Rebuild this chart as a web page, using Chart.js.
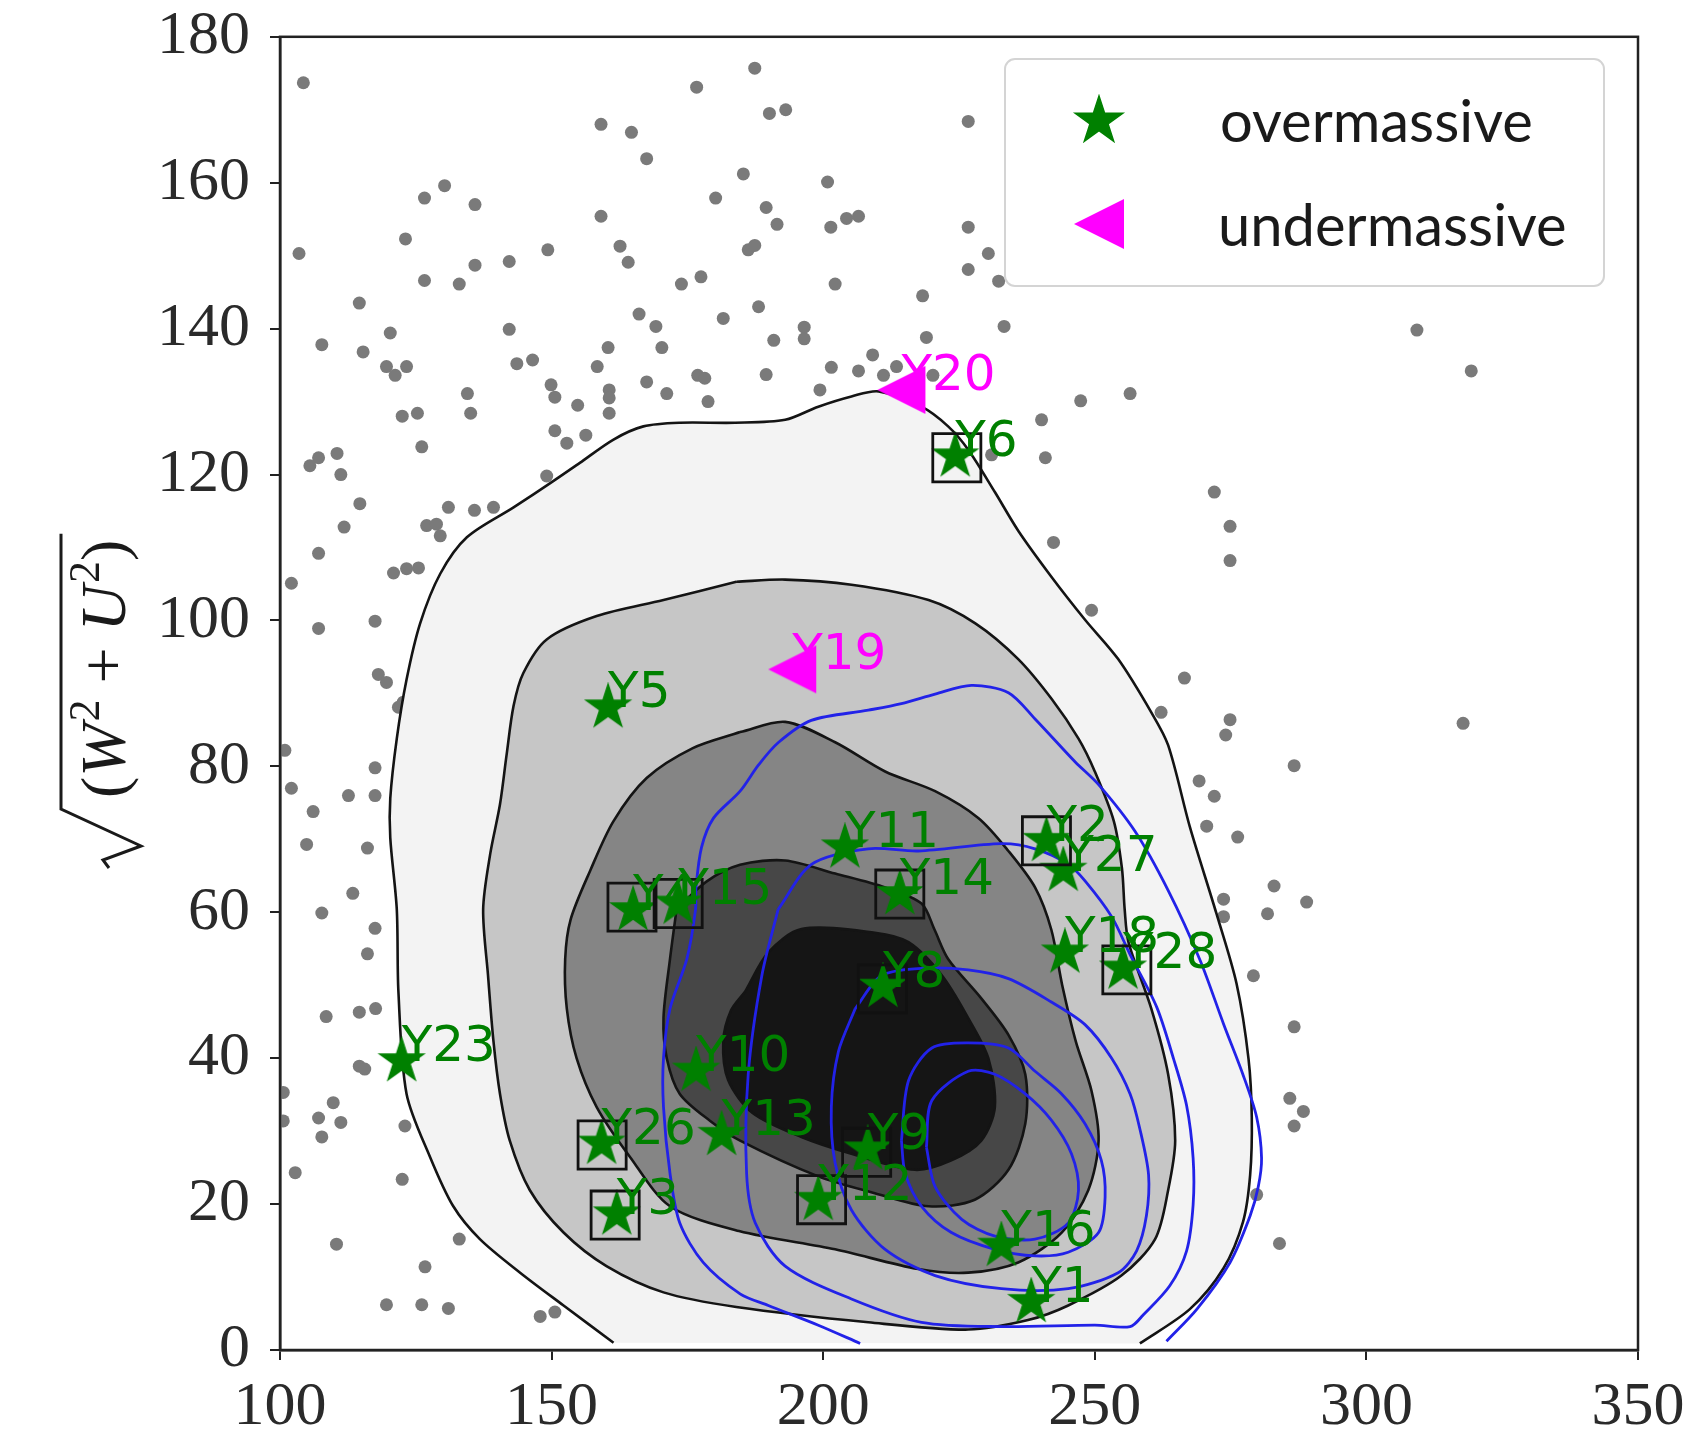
<!DOCTYPE html>
<html>
<head>
<meta charset="utf-8">
<script src="https://cdn.jsdelivr.net/npm/chart.js@4.4.0/dist/chart.umd.min.js"></script>
<style>
  html, body { margin: 0; padding: 0; background: #fff; }
  canvas { display: block; }
</style>
</head>
<body>
<canvas id="toomre" width="1690" height="1441"></canvas>
<script>
// field stars (grey dots)
const dotX = [104.3,176.7,159.1,164.7,167.5,185.3,130.3,126.6,135.9,180.2,159.1,123.1,103.5,135.9,142.2,149.3,162.6,164.1,126.6,133.0,
  173.9,177.5,114.6,166.1,169.2,181.6,120.3,142.2,107.7,115.3,160.4,170.3,119.6,121.2,123.3,143.6,146.5,158.4,176.9,178.2,
  149.9,150.6,160.6,160.6,167.5,171.2,178.8,134.5,135.1,154.8,160.6,122.5,125.3,126.1,150.6,152.8,156.3,105.5,107.1,110.5,
  111.2,149.1,187.4,190.1,193.1,226.7,200.8,189.5,191.5,201.4,204.3,206.5,186.2,187.4,226.7,230.4,226.7,232.3,202.2,218.3,
  188.1,196.5,196.5,190.9,219.0,233.3,189.5,201.5,206.5,209.1,199.4,211.1,213.5,220.2,247.4,256.5,240.2,231.0,240.9,309.3,
  319.3,317.8,272.0,274.9,274.9,266.5,262.2,274.9,274.1,286.7,269.2,272.0,270.6,276.3,283.0,281.8,289.0,273.7,273.7,279.2,
  286.7,285.9,288.4,286.7,279.8,284.0,242.4,249.4,114.7,111.8,107.1,102.1,131.0,135.8,139.3,127.0,128.8,129.5,120.9,123.3,
  125.5,117.5,107.1,118.1,119.6,121.8,122.7,100.9,117.5,102.1,112.6,117.5,106.1,104.9,116.1,113.4,107.7,117.5,116.1,108.5,
  114.6,117.6,114.6,115.6,100.6,100.6,109.8,107.1,111.2,107.7,123.0,102.8,122.5,110.4,133.0,126.7,119.6,126.1,131.0,147.9,150.6];
const dotY = [173.7,173.1,168.0,166.9,163.3,161.2,159.6,157.9,157.0,157.9,155.4,152.3,150.3,148.7,149.2,150.8,151.3,149.1,146.6,146.1,
  146.1,147.1,143.5,142.0,140.3,141.4,139.4,139.9,137.8,136.8,137.4,137.4,134.8,133.6,134.8,135.2,135.7,134.8,133.6,133.2,
  132.3,130.6,131.6,130.5,132.7,131.1,130.0,131.1,128.4,129.5,128.4,128.0,128.4,123.8,126.0,124.3,125.4,121.2,122.3,122.9,
  120.0,119.8,175.7,169.5,170.0,168.4,160.1,156.6,154.3,153.9,155.1,155.4,150.8,151.4,153.9,150.3,148.1,146.5,146.1,144.5,
  143.0,140.2,138.6,138.4,138.8,140.3,133.7,134.7,134.2,136.4,131.6,133.6,134.8,133.6,130.1,131.1,127.5,122.7,122.3,139.8,
  134.2,85.9,117.6,112.9,108.2,92.1,87.4,86.4,84.3,80.1,78.0,75.9,71.8,70.3,63.6,59.8,61.4,61.8,59.4,51.3,
  44.3,34.5,32.7,30.7,21.3,14.6,110.7,101.4,116.0,112.8,109.2,105.1,115.5,115.1,115.5,113.0,113.2,111.6,106.5,107.1,
  107.2,99.9,98.9,92.6,91.5,88.1,88.8,82.2,79.8,77.0,76.0,76.0,73.8,69.3,68.8,62.6,59.9,57.8,54.3,45.7,
  46.3,46.8,38.9,38.5,35.3,31.4,33.9,31.8,31.2,29.2,30.7,24.3,23.4,14.5,15.2,11.4,6.2,6.2,5.7,4.6,5.2];

// density contours of the reference population (filled, outer to inner)
const c1x = [161.4,152.2,144.2,136.8,131.9,127.6,123.3,121.8,121.5,120.3,120.3,121.5,123.3,125.8,129.5,134.4,143.0,150.3,155.2,161.4,
  166.9,173.6,183.8,193.0,199.1,205.2,210.2,218.1,223.0,226.7,231.6,235.9,242.0,248.2,254.3,260.4,263.5,267.5,272.4,276.1,
  278.3,278.9,278.6,277.3,273.7,267.5,258.3];
const c1y = [1.0,6.1,10.6,15.2,19.7,26.5,35.1,49.1,60.4,70.2,75.6,83.8,91.9,99.6,106.4,111.4,115.5,119.1,121.6,124.8,
  126.6,127.1,127.1,127.5,129.3,130.7,131.4,129.3,126.6,123.4,117.6,112.3,106.0,100.1,94.7,87.4,82.9,71.7,59.8,50.2,
  39.9,31.9,24.0,17.6,11.2,5.6,0.9];
const c2x = [184.0,193.0,205.2,219.4,228.0,235.9,242.1,247.0,250.0,253.5,255.0,255.5,256.2,260.4,263.5,264.8,263.5,261.1,254.9,245.1,
  237.7,226.7,208.3,184.0,170.6,160.1,152.2,146.0,142.3,140.5,139.3,138.3,137.4,138.7,140.5,141.7,143.0,144.8,149.1,158.3,170.6,184.0];
const c2y = [105.3,105.6,104.9,102.8,99.6,94.7,89.2,83.8,79.3,72.5,66.0,60.4,55.9,46.8,37.8,28.7,21.9,15.2,10.2,6.1,
  4.1,2.8,3.8,5.9,7.9,11.5,16.1,21.9,28.7,35.1,42.3,51.3,60.4,68.0,74.8,81.5,88.3,92.8,97.4,100.6,102.8,105.3];
const c3x = [184.7,193.0,202.2,211.4,220.6,228.6,234.1,239.0,242.0,244.0,246.5,249.4,250.7,248.8,243.9,235.9,226.7,217.5,202.2,184.5,
  171.8,164.4,158.3,154.6,152.8,152.5,153.5,157.1,161.4,167.5,176.0,184.7];
const c3y = [84.7,86.1,83.3,79.3,76.6,72.9,68.4,63.4,57.6,50.0,42.3,35.5,28.7,21.9,16.1,12.0,10.6,11.1,13.8,16.3,
  19.7,26.5,33.3,40.0,46.8,53.6,59.0,65.7,72.5,78.4,82.5,84.7];
const c4x = [173.0,178.5,184.7,193.0,202.2,211.4,218.1,220.5,223.0,229.1,234.1,237.2,237.2,234.1,227.9,219.4,209.5,199.1,184.7,179.2,
  173.6,171.2,170.6,171.8,173.0];
const c4y = [60.4,64.2,66.5,67.1,65.3,63.4,61.2,57.6,53.6,48.2,43.2,37.8,31.0,24.7,20.6,19.7,21.5,23.8,28.7,31.4,
  35.1,40.0,45.5,53.6,60.4];
const c5x = [185.6,189.9,196.0,209.5,215.7,221.8,226.7,230.4,231.6,229.1,223.6,216.9,205.2,196.0,187.0,182.5,181.6,183.0,185.6];
const c5y = [49.1,54.5,57.7,57.2,55.9,51.4,45.5,40.0,33.3,28.7,26.0,24.7,26.9,29.2,32.5,37.0,42.3,46.5,49.1];

// second population, line contours (blue)
const b1x = [206.8,199.1,189.9,184.7,177.9,173.6,171.8,170.6,170.6,171.8,174.9,176.5,176.6,177.6,179.8,184.7,188.1,191.8,197.8,208.3,
  214.4,220.6,227.3,234.1,239.0,246.4,250.7,257.4,263.5,269.4,273.7,277.4,279.8,280.7,280.1,278.6,274.9,268.8,263.2];
const b1y = [0.9,3.4,6.1,7.7,12.0,17.4,24.2,33.3,40.0,46.8,53.6,60.4,63.5,68.9,72.9,76.6,80.2,83.3,86.3,87.7,
  88.6,89.9,91.1,90.1,86.5,80.6,77.5,71.1,63.0,53.4,44.7,37.5,31.9,26.3,22.4,18.4,12.0,5.6,1.2];
const b2x = [191.7,197.9,208.3,217.5,232.8,239.0,245.1,248.2,253.1,256.5,261.4,264.5,266.9,268.1,268.1,266.9,263.8,258.9,256.5,250.0,
  232.8,218.1,205.2,193.0,187.5,185.9,186.2,188.7,191.7];
const b2y = [60.4,66.6,68.7,68.4,69.4,68.7,66.6,64.3,59.4,54.2,47.0,39.9,33.5,26.3,19.9,13.6,8.8,4.8,3.2,3.4,
  3.2,3.8,7.0,11.5,17.4,24.2,37.8,51.3,60.4];
const b3x = [205.9,210.7,218.1,226.7,234.1,242.0,248.2,253.1,256.5,258.3,259.9,259.5,257.7,254.3,245.1,232.8,220.6,211.4,205.2,202.2,
  201.5,202.8,205.9];
const b3y = [46.8,51.3,52.3,52.1,50.9,47.7,44.6,40.0,35.1,30.3,24.0,18.4,13.6,10.6,8.4,8.4,10.2,13.8,19.2,25.6,
  33.3,40.9,46.8];
const b4x = [214.4,215.7,220.0,226.7,234.1,239.0,243.9,248.2,251.2,251.9,250.7,245.1,239.0,231.6,223.6,218.1,215.1,214.4];
const b4y = [28.7,36.9,41.4,42.1,41.4,38.2,35.1,31.0,26.0,21.0,16.1,13.4,12.9,13.8,16.1,19.7,24.2,28.7];
const b5x = [219.0,220.0,226.7,231.6,237.2,242.0,245.7,247.0,245.1,239.0,231.6,225.5,220.6,219.0];
const b5y = [27.8,34.2,38.2,37.8,35.1,31.5,26.9,21.9,17.4,15.2,15.6,17.9,22.4,27.8];

// overmassive / undermassive objects
const starNames = ['Y1','Y2','Y3','Y4','Y5','Y6','Y8','Y9','Y10','Y11','Y12','Y13','Y14','Y15','Y16','Y18','Y23','Y26','Y27','Y28'];
const starX = [238.3,241.1,162.0,165.0,160.4,224.3,211.0,208.2,176.6,204.0,199.1,181.3,214.1,173.3,232.8,244.5,122.4,159.2,244.2,255.2];
const starY = [6.6,69.8,18.6,60.3,88.1,122.5,49.8,27.5,38.3,68.9,20.6,29.5,62.5,61.2,14.3,54.5,39.6,28.3,65.7,52.3];
const triNames = ['Y19','Y20'];
const triX = [194.3,214.4];
const triY = [93.3,131.6];
// boxed objects
const boxX = [224.6,164.8,173.3,159.3,161.7,214.1,241.1,255.9,210.9,208.0,199.7];
const boxY = [122.3,60.7,61.2,28.1,18.5,62.5,69.8,52.1,49.5,27.1,20.6];

const xTicks = [100, 150, 200, 250, 300, 350];
const yTicks = [0, 20, 40, 60, 80, 100, 120, 140, 160, 180];
const legendLabels = ['overmassive', 'undermassive'];

const GREEN = '#008000';
const MAGENTA = '#ff00ff';

function pts(xs, ys) {
  return xs.map((x, i) => ({ x: x, y: ys[i] }));
}

function makeStar(r, color) {
  const c = document.createElement('canvas');
  c.width = c.height = Math.ceil(2 * r + 4);
  const g = c.getContext('2d');
  const m = c.width / 2;
  g.beginPath();
  for (let i = 0; i < 10; i++) {
    const rr = i % 2 ? r * 0.382 : r;
    const a = -Math.PI / 2 + i * Math.PI / 5;
    g.lineTo(m + rr * Math.cos(a), m + rr * Math.sin(a));
  }
  g.closePath();
  g.fillStyle = color;
  g.fill();
  g.strokeStyle = color;
  g.lineWidth = 1.5;
  g.stroke();
  return c;
}

function makeTriangle(s, color) {
  const c = document.createElement('canvas');
  c.width = c.height = Math.ceil(2 * s + 4);
  const g = c.getContext('2d');
  const m = c.width / 2;
  g.beginPath();
  g.moveTo(m - s, m);
  g.lineTo(m + s, m - s);
  g.lineTo(m + s, m + s);
  g.closePath();
  g.fillStyle = color;
  g.fill();
  return c;
}

const starImg = makeStar(23, GREEN);
const triImg = makeTriangle(24, MAGENTA);
const starLegendImg = makeStar(25, GREEN);
const triLegendImg = makeTriangle(25, MAGENTA);

function filled(xs, ys, color, order) {
  return {
    type: 'line', data: pts(xs, ys), fill: 'shape', backgroundColor: color,
    borderColor: '#141414', borderWidth: 2.6, pointRadius: 0, tension: 0.3, order: order
  };
}

function blueLine(xs, ys) {
  return {
    type: 'line', data: pts(xs, ys), fill: false, borderColor: '#2222e8',
    borderWidth: 2.8, pointRadius: 0, tension: 0.3, order: 2
  };
}

// frame on all four sides
const frame = {
  id: 'frame',
  afterDatasetsDraw(chart) {
    const { ctx, chartArea: a } = chart;
    ctx.save();
    ctx.strokeStyle = '#222';
    ctx.lineWidth = 2.5;
    ctx.strokeRect(a.left, a.top, a.right - a.left, a.bottom - a.top);
    ctx.restore();
  }
};

// object names next to markers
const pointLabels = {
  id: 'pointLabels',
  afterDatasetsDraw(chart) {
    const { ctx, scales } = chart;
    ctx.save();
    ctx.font = '50px "DejaVu Sans", sans-serif';
    ctx.textAlign = 'left';
    ctx.textBaseline = 'alphabetic';
    ctx.fillStyle = GREEN;
    starNames.forEach((n, i) => {
      ctx.fillText(n, scales.x.getPixelForValue(starX[i]), scales.y.getPixelForValue(starY[i]));
    });
    ctx.fillStyle = MAGENTA;
    triNames.forEach((n, i) => {
      ctx.fillText(n, scales.x.getPixelForValue(triX[i]), scales.y.getPixelForValue(triY[i]));
    });
    ctx.restore();
  }
};

const legendBox = {
  id: 'legendBox',
  afterDraw(chart) {
    const ctx = chart.ctx;
    ctx.save();
    ctx.beginPath();
    ctx.roundRect(1005, 59, 599, 227, 10);
    ctx.fillStyle = 'rgba(255,255,255,0.8)';
    ctx.fill();
    ctx.strokeStyle = '#d4d4d4';
    ctx.lineWidth = 2;
    ctx.stroke();
    ctx.drawImage(starLegendImg, 1099 - starLegendImg.width / 2, 121 - starLegendImg.height / 2);
    ctx.drawImage(triLegendImg, 1099 - triLegendImg.width / 2, 224 - triLegendImg.height / 2);
    ctx.font = '56px Lato, "Open Sans", sans-serif';
    const w = ctx.measureText(legendLabels[0]).width;
    const size = 56 * 313 / w;
    ctx.font = size.toFixed(1) + 'px Lato, "Open Sans", sans-serif';
    ctx.fillStyle = '#1a1a1a';
    ctx.textBaseline = 'alphabetic';
    ctx.fillText(legendLabels[0], 1220, 142);
    ctx.fillText(legendLabels[1], 1218, 246);
    ctx.restore();
  }
};

// y axis title: sqrt(W^2 + U^2), rotated
const yTitle = {
  id: 'yTitle',
  afterDraw(chart) {
    const ctx = chart.ctx;
    ctx.save();
    ctx.translate(125, 868);
    ctx.rotate(-Math.PI / 2);
    ctx.fillStyle = '#1a1a1a';
    ctx.textBaseline = 'alphabetic';
    const parts = [
      ['(', 'normal'], ['W', 'italic'], ['2', 'sup'], [' + ', 'normal'],
      ['U', 'italic'], ['2', 'sup'], [')', 'normal']
    ];
    let x = 70;
    parts.forEach(p => {
      if (p[1] === 'sup') {
        ctx.font = '44px "Liberation Serif", serif';
        ctx.fillText(p[0], x + 2, -26);
        x += ctx.measureText(p[0]).width + 2;
      } else {
        ctx.font = (p[1] === 'italic' ? 'italic ' : '') + '64px "Liberation Serif", serif';
        ctx.fillText(p[0], x, 0);
        x += ctx.measureText(p[0]).width;
      }
    });
    ctx.strokeStyle = '#1a1a1a';
    ctx.lineJoin = 'miter';
    ctx.lineWidth = 3;
    ctx.beginPath();
    ctx.moveTo(0, -16);
    ctx.lineTo(8, -22);
    ctx.lineTo(22, 16);
    ctx.lineTo(59, -64);
    ctx.lineTo(x + 6, -64);
    ctx.stroke();
    ctx.restore();
  }
};

const tickFont = { family: '"Liberation Serif", "DejaVu Serif", serif', size: 62 };

new Chart(document.getElementById('toomre'), {
  type: 'scatter',
  data: {
    datasets: [
      { data: pts(boxX, boxY), pointStyle: 'rect', pointRadius: 34, backgroundColor: 'rgba(0,0,0,0)',
        borderColor: '#111', borderWidth: 2.8, order: 0 },
      { data: pts(starX, starY), pointStyle: starImg, pointRadius: 23, order: 1 },
      { data: pts(triX, triY), pointStyle: triImg, pointRadius: 24, order: 1 },
      blueLine(b1x, b1y),
      blueLine(b2x, b2y),
      blueLine(b3x, b3y),
      blueLine(b4x, b4y),
      blueLine(b5x, b5y),
      filled(c5x, c5y, '#151515', 3),
      filled(c4x, c4y, '#474747', 4),
      filled(c3x, c3y, '#858585', 5),
      filled(c2x, c2y, '#c6c6c6', 6),
      filled(c1x, c1y, '#f3f3f3', 7),
      { data: pts(dotX, dotY), pointRadius: 6.5, backgroundColor: '#7a7a7a', borderWidth: 0, order: 8 }
    ]
  },
  options: {
    responsive: false,
    animation: false,
    devicePixelRatio: 1,
    events: [],
    layout: { padding: { top: 24, right: 52, left: 0, bottom: 0 } },
    plugins: { legend: { display: false }, tooltip: { enabled: false } },
    scales: {
      x: {
        type: 'linear', min: 100, max: 350,
        afterBuildTicks(s) { s.ticks = xTicks.map(v => ({ value: v })); },
        ticks: { font: tickFont, color: '#2a2a2a', padding: 11, maxRotation: 0 },
        grid: { display: true, drawOnChartArea: false, drawTicks: true, tickLength: 10, color: '#222', lineWidth: 2 },
        border: { display: true, color: '#222', width: 2.5 },
        afterFit(s) { s.height = 91; s.paddingLeft = 0; s.paddingRight = 0; }
      },
      y: {
        type: 'linear', min: 0, max: 180,
        afterBuildTicks(s) { s.ticks = yTicks.map(v => ({ value: v })); },
        ticks: { font: tickFont, color: '#2a2a2a', padding: 20 },
        grid: { display: true, drawOnChartArea: false, drawTicks: true, tickLength: 10, color: '#222', lineWidth: 2 },
        border: { display: true, color: '#222', width: 2.5 },
        afterFit(s) { s.width = 280; s.paddingTop = 0; s.paddingBottom = 0; }
      }
    }
  },
  plugins: [frame, pointLabels, legendBox, yTitle]
});
</script>
</body>
</html>
